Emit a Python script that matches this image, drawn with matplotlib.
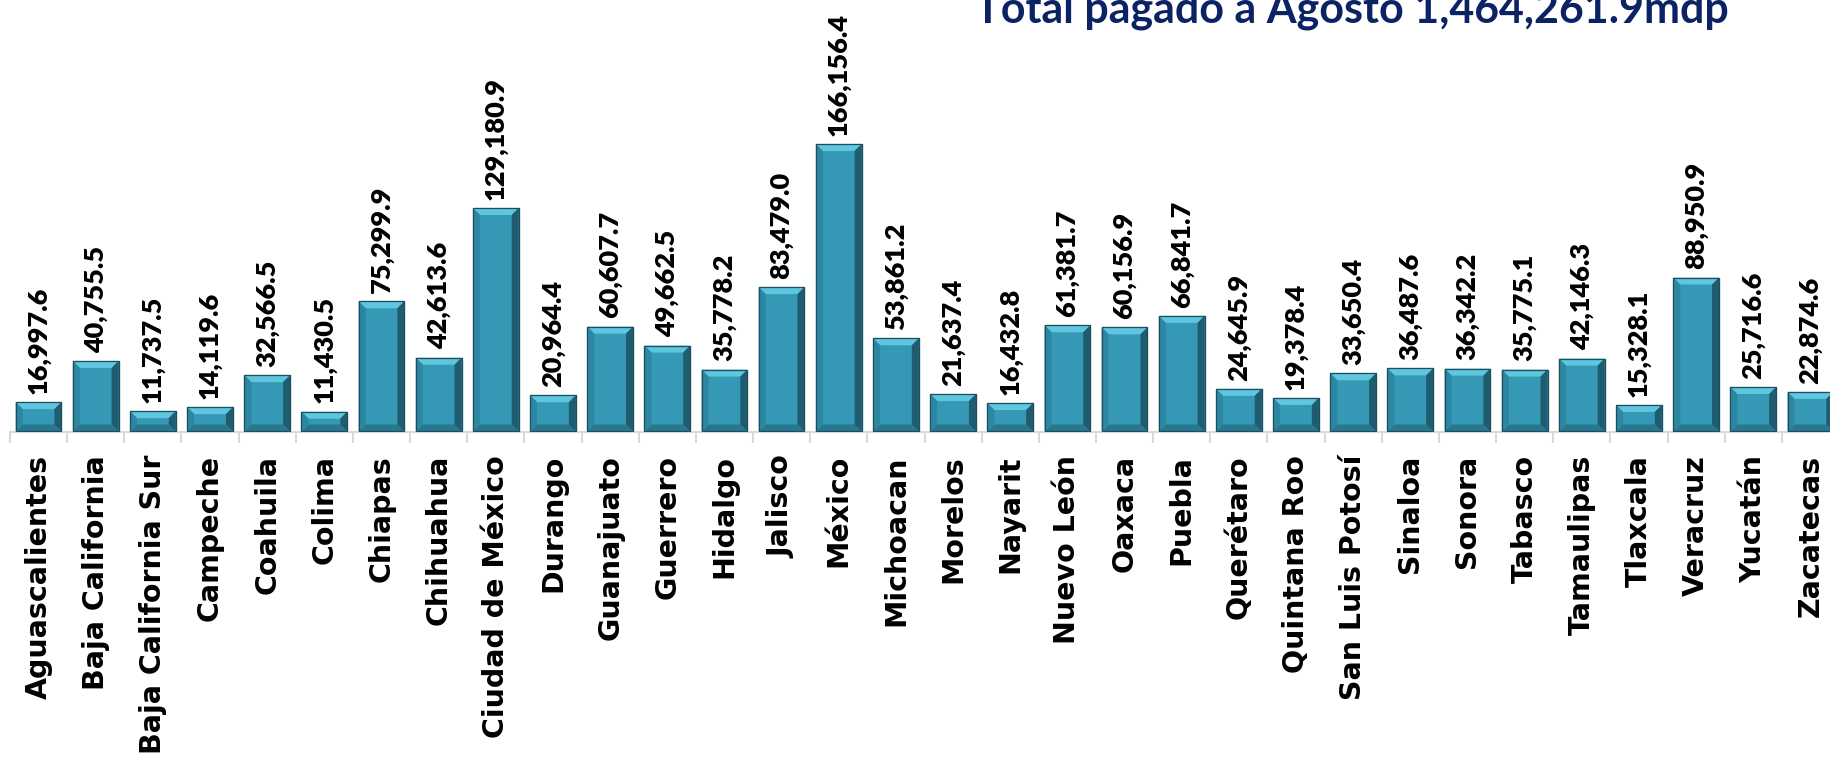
import matplotlib
matplotlib.use("Agg")
import matplotlib.pyplot as plt
from matplotlib.patches import Polygon
import numpy as np

states = ["Aguascalientes", "Baja California", "Baja California Sur", "Campeche",
          "Coahuila", "Colima", "Chiapas", "Chihuahua", "Ciudad de México", "Durango",
          "Guanajuato", "Guerrero", "Hidalgo", "Jalisco", "México", "Michoacan",
          "Morelos", "Nayarit", "Nuevo León", "Oaxaca", "Puebla", "Querétaro",
          "Quintana Roo", "San Luis Potosí", "Sinaloa", "Sonora", "Tabasco",
          "Tamaulipas", "Tlaxcala", "Veracruz", "Yucatán", "Zacatecas"]
values = [16997.6, 40755.5, 11737.5, 14119.6, 32566.5, 11430.5, 75299.9, 42613.6,
          129180.9, 20964.4, 60607.7, 49662.5, 35778.2, 83479.0, 166156.4, 53861.2,
          21637.4, 16432.8, 61381.7, 60156.9, 66841.7, 24645.9, 19378.4, 33650.4,
          36487.6, 36342.2, 35775.1, 42146.3, 15328.1, 88950.9, 25716.6, 22874.6]
title = "Total pagado a Agosto 1,464,261.9mdp"

W, H, DPI = 1831, 760, 100
fig = plt.figure(figsize=(W / DPI, H / DPI), dpi=DPI)
fig.patch.set_facecolor("white")

ax_left_px, ax_base_px, ax_w_px = 10, 431.5, 1829
ymax = 200000
ax_h_px = ymax / 1000 * 1.73
ax = fig.add_axes([ax_left_px / W, (H - ax_base_px) / H, ax_w_px / W, ax_h_px / H])
ax.set_xlim(-0.5, len(states) - 0.5)
ax.set_ylim(0, ymax)
ax.patch.set_alpha(0)

x = np.arange(len(states))
bars = ax.bar(x, values, width=0.8, color="#3598B4", edgecolor="#1D4E5E",
              linewidth=0.8, zorder=2)

# bevel decoration derived from each bar's geometry
b = 7
to_data = ax.transData.inverted()
for rect in bars.patches:
    x0, y0 = ax.transData.transform((rect.get_x(), 0))
    x1, y1 = ax.transData.transform((rect.get_x() + rect.get_width(), rect.get_height()))
    bb = min(b, (y1 - y0) / 2.5)
    parts = [
        ([(x0, y1), (x1, y1), (x1 - b, y1 - bb), (x0 + b, y1 - bb)], "#5EC6DF"),
        ([(x1, y1), (x1, y0), (x1 - b, y0 + bb), (x1 - b, y1 - bb)], "#205C70"),
        ([(x0, y0), (x1, y0), (x1 - b, y0 + bb), (x0 + b, y0 + bb)], "#28778E"),
        ([(x0, y0), (x0, y1), (x0 + b, y1 - bb), (x0 + b, y0 + bb)], "#2D87A2"),
    ]
    for pts, col in parts:
        dpts = to_data.transform(np.array(pts))
        ax.add_patch(Polygon(dpts, closed=True, facecolor=col, edgecolor="none", zorder=3))
    outline = to_data.transform(np.array([(x0, y0), (x1, y0), (x1, y1), (x0, y1)]))
    ax.add_patch(Polygon(outline, closed=True, facecolor="none", edgecolor="#1D4E5E",
                         linewidth=0.9, zorder=4))

for xi, v in zip(x, values):
    ax.annotate(f"{v:,.1f}", (xi, v), xytext=(0, 6), textcoords="offset points",
                rotation=90, ha="center", va="bottom", fontsize=19.5,
                fontweight="heavy", color="black", family=["Lato", "DejaVu Sans"],
                annotation_clip=False)

for s in ["top", "right", "left"]:
    ax.spines[s].set_visible(False)
ax.spines["bottom"].set_color("#D9D9D9")
ax.spines["bottom"].set_linewidth(1.5)
ax.set_yticks([])
ax.set_xticks(x)
ax.set_xticklabels(states, rotation=90, fontsize=20.5, fontweight="bold",
                   family="DejaVu Sans")
ax.tick_params(axis="x", which="major", length=0, pad=17)
ax.set_xticks(np.arange(-0.5, len(states) + 0.5, 1), minor=True)
ax.tick_params(axis="x", which="minor", length=8, width=1.5, color="#D9D9D9")

fig.text(1352 / W, (H - 22) / H, title, ha="center", va="baseline",
         fontsize=31, fontweight="bold", color="#0B2265", family="Lato")

fig.savefig("out.png", dpi=DPI)
